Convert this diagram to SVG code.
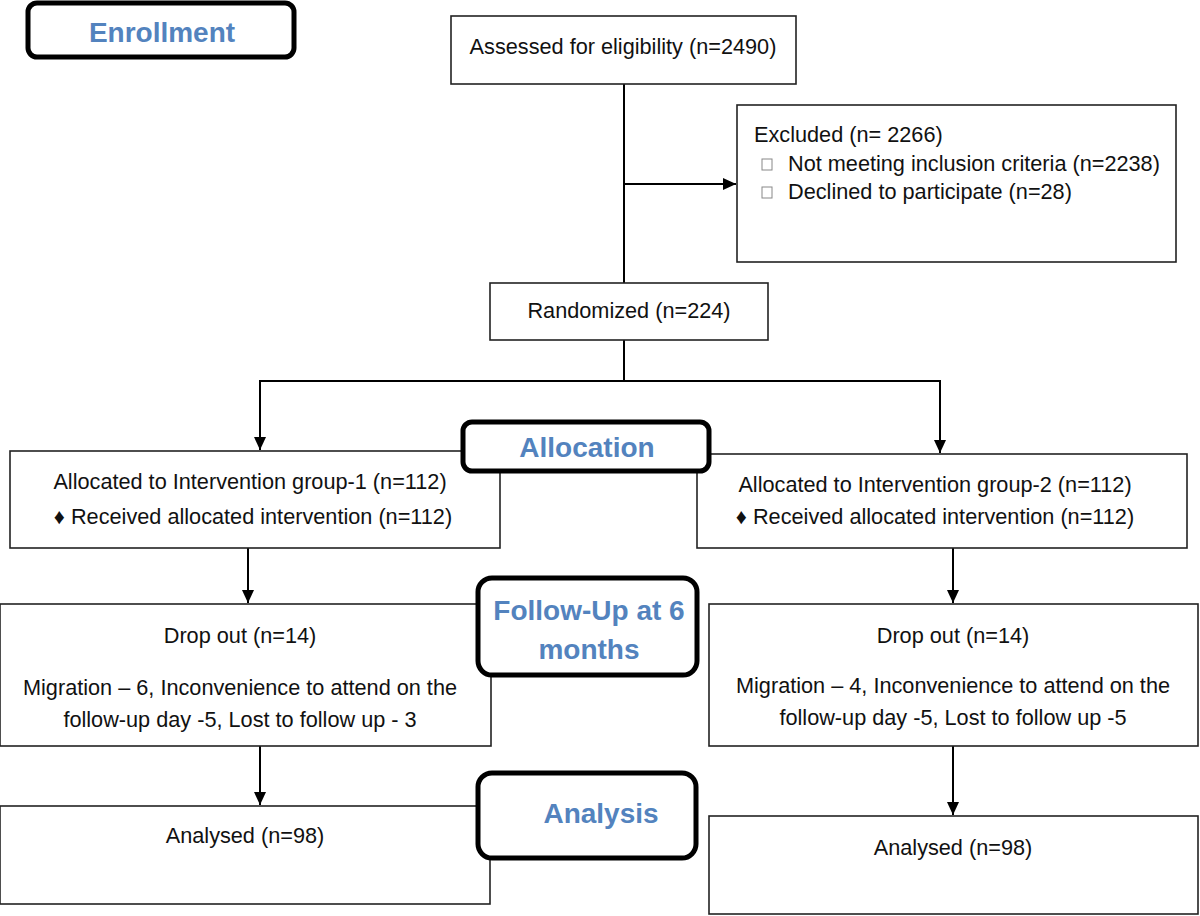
<svg xmlns="http://www.w3.org/2000/svg" width="1200" height="916" viewBox="0 0 1200 916">
<defs>
<marker id="arr" markerWidth="12" markerHeight="14" refX="13" refY="6" orient="auto" markerUnits="userSpaceOnUse"><path d="M0,0 L13,6 L0,12 Z" fill="#000"/></marker>
<style>
.box{fill:#fff;stroke:#222;stroke-width:1.6}
.stage{fill:#fff;stroke:#000;stroke-width:5}
.t{font-family:"Liberation Sans",Arial,sans-serif;font-size:21.7px;fill:#111}
.c{text-anchor:middle}
.s{font-family:"Liberation Sans",Arial,sans-serif;font-size:28px;font-weight:bold;fill:#5383be;text-anchor:middle}
.ln{fill:none;stroke:#000;stroke-width:2}
.sq{fill:#fff;stroke:#888;stroke-width:1}
</style>
</defs>
<rect width="1200" height="916" fill="#fff"/>

<g id="connectors">
<path class="ln" d="M624,84 V283"/>
<path class="ln" d="M624,184 H736" marker-end="url(#arr)"/>
<path class="ln" d="M624,340 V381 H260 V450" marker-end="url(#arr)"/>
<path class="ln" d="M624,381 H940 V453" marker-end="url(#arr)"/>
<path class="ln" d="M248,548 V603" marker-end="url(#arr)"/>
<path class="ln" d="M953,548 V603" marker-end="url(#arr)"/>
<path class="ln" d="M260,746 V805" marker-end="url(#arr)"/>
<path class="ln" d="M953,746 V815" marker-end="url(#arr)"/>
</g>

<g id="assessed">
<rect class="box" x="451" y="16" width="345" height="68"/>
<text class="t c" x="623" y="54">Assessed for eligibility (n=2490)</text>
</g>

<g id="excluded">
<rect class="box" x="737" y="105" width="439" height="157"/>
<text class="t" x="754" y="142">Excluded (n= 2266)</text>
<rect class="sq" x="762" y="159" width="10" height="11"/>
<text class="t" x="788" y="171">Not meeting inclusion criteria (n=2238)</text>
<rect class="sq" x="762" y="187" width="10" height="11"/>
<text class="t" x="788" y="199">Declined to participate (n=28)</text>
</g>

<g id="randomized">
<rect class="box" x="490" y="283" width="278" height="57"/>
<text class="t c" x="629" y="318">Randomized (n=224)</text>
</g>

<g id="alloc1">
<rect class="box" x="10" y="451" width="490" height="97"/>
<text class="t c" x="250" y="489">Allocated to Intervention group-1 (n=112)</text>
<text class="t c" x="253" y="524">♦ Received allocated intervention (n=112)</text>
</g>

<g id="alloc2">
<rect class="box" x="697" y="454" width="490" height="94"/>
<text class="t c" x="935" y="492">Allocated to Intervention group-2 (n=112)</text>
<text class="t c" x="935" y="524">♦ Received allocated intervention (n=112)</text>
</g>

<g id="dropout1">
<rect class="box" x="0" y="604" width="491" height="142"/>
<text class="t c" x="240" y="643">Drop out (n=14)</text>
<text class="t c" x="240" y="695">Migration – 6, Inconvenience to attend on the</text>
<text class="t c" x="240" y="727">follow-up day -5, Lost to follow up - 3</text>
</g>

<g id="dropout2">
<rect class="box" x="709" y="604" width="489" height="142"/>
<text class="t c" x="953" y="643">Drop out (n=14)</text>
<text class="t c" x="953" y="693">Migration – 4, Inconvenience to attend on the</text>
<text class="t c" x="953" y="725">follow-up day -5, Lost to follow up -5</text>
</g>

<g id="analysed1">
<rect class="box" x="0" y="806" width="490" height="98"/>
<text class="t c" x="245" y="843">Analysed (n=98)</text>
</g>

<g id="analysed2">
<rect class="box" x="709" y="816" width="489" height="98"/>
<text class="t c" x="953" y="855">Analysed (n=98)</text>
</g>

<g id="enrollment">
<rect class="stage" x="28" y="3" width="266" height="54" rx="9"/>
<text class="s" x="162" y="42">Enrollment</text>
</g>

<g id="allocation">
<rect class="stage" x="463" y="422" width="246" height="49" rx="9"/>
<text class="s" x="587" y="457">Allocation</text>
</g>

<g id="followup">
<rect class="stage" x="478" y="578" width="219" height="97" rx="14"/>
<text class="s" x="589" y="620">Follow-Up at 6</text>
<text class="s" x="589" y="659">months</text>
</g>

<g id="analysis">
<rect class="stage" x="478" y="773" width="218" height="85" rx="14"/>
<text class="s" x="601" y="823">Analysis</text>
</g>
</svg>
